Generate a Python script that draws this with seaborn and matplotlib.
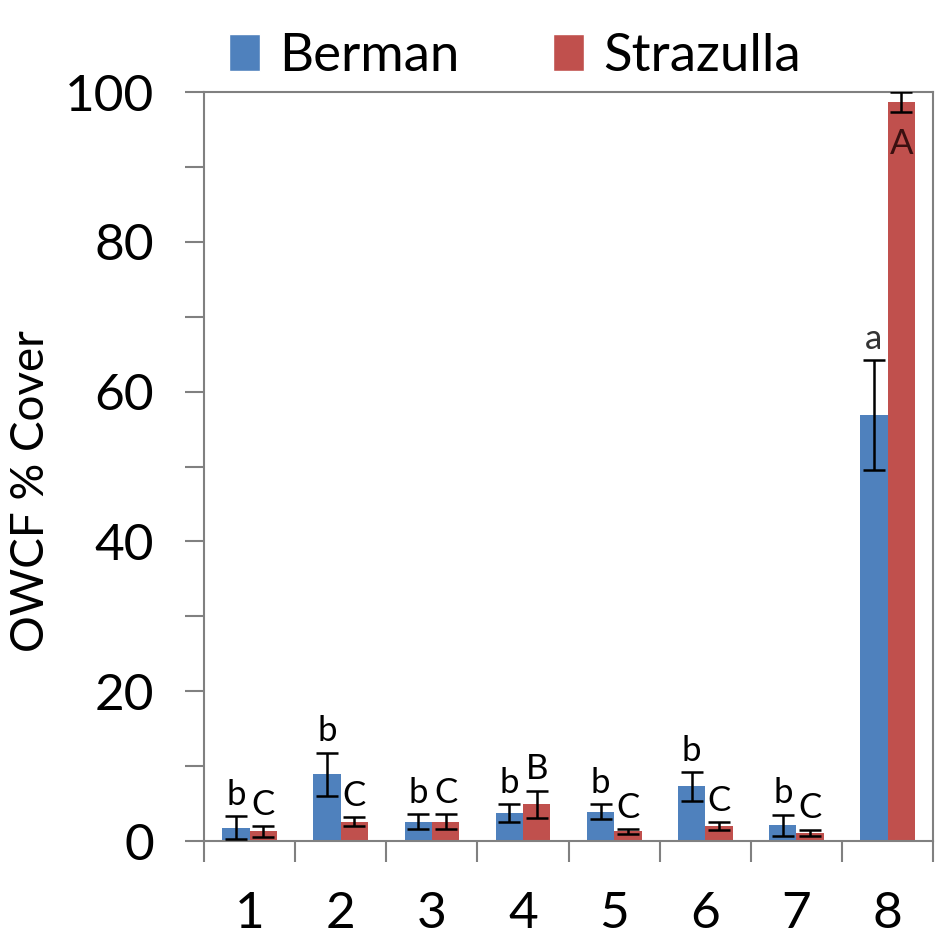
import numpy as np
import pandas as pd
import matplotlib
matplotlib.use('Agg')
import matplotlib.pyplot as plt
from matplotlib.ticker import MultipleLocator, FixedLocator
from matplotlib.patches import Patch
import seaborn as sns

# %% Data
sites = ['1', '2', '3', '4', '5', '6', '7', '8']
berman_mean = [1.8, 8.9, 2.6, 3.7, 3.9, 7.3, 2.1, 56.9]
berman_err = [1.5, 2.9, 1.0, 1.2, 1.0, 1.9, 1.4, 7.3]
strazulla_mean = [1.3, 2.6, 2.6, 4.9, 1.3, 2.0, 1.1, 98.7]
strazulla_err = [0.7, 0.6, 1.0, 1.8, 0.3, 0.5, 0.4, 1.3]
berman_letters = ['b', 'b', 'b', 'b', 'b', 'b', 'b', 'a']
strazulla_letters = ['C', 'C', 'C', 'B', 'C', 'C', 'C', 'A']

colors = {'Berman': '#4F81BD', 'Strazulla': '#C0504D'}

df = pd.DataFrame({
    'site': sites * 2,
    'source': ['Berman'] * 8 + ['Strazulla'] * 8,
    'cover': berman_mean + strazulla_mean,
})

# %% Plot
sns.set_style('white')
plt.rcParams['font.family'] = ['Lato', 'DejaVu Sans']
plt.rcParams['text.color'] = 'black'
plt.rcParams['xtick.labelcolor'] = 'black'
plt.rcParams['ytick.labelcolor'] = 'black'
plt.rcParams['axes.labelcolor'] = 'black'

fig = plt.figure(figsize=(9.36, 9.44), dpi=100)
ax = fig.add_axes([0.218, 0.109, 0.779, 0.7935])

sns.barplot(data=df, x='site', y='cover', hue='source', palette=colors,
            width=0.6, errorbar=None, saturation=1, legend=False,
            linewidth=0, ax=ax)

# bar containers, one per hue level (copy before errorbar adds more)
bar_conts = list(ax.containers)
errs = [berman_err, strazulla_err]
letters = [berman_letters, strazulla_letters]
means = [berman_mean, strazulla_mean]
for k, cont in enumerate(bar_conts):
    xs = [p.get_x() + p.get_width() / 2 for p in cont.patches]
    ax.errorbar(xs, means[k], yerr=errs[k], fmt='none', ecolor='black',
                elinewidth=1.8, capsize=8, capthick=1.8, zorder=3)
    for x, m, e, lab in zip(xs, means[k], errs[k], letters[k]):
        if lab == 'A':
            # letter sits inside the top of the tall bar
            ax.annotate(lab, (x, m - e), xytext=(0, -12), textcoords='offset points',
                        ha='center', va='top', fontsize=25, color='#3a1010')
        else:
            ax.annotate(lab, (x, m + e), xytext=(0, 4), textcoords='offset points',
                        ha='center', va='bottom', fontsize=25,
                        color='#333333' if lab == 'a' else 'black')

ax.set_ylim(0, 100)
ax.set_xlim(-0.5, 7.5)
ax.yaxis.set_major_locator(MultipleLocator(20))
ax.yaxis.set_minor_locator(MultipleLocator(10))
ax.xaxis.set_minor_locator(FixedLocator(np.arange(-0.5, 8, 1)))

ax.tick_params(axis='y', which='both', direction='out', left=True, length=14,
               width=1.5, color='#808080', labelsize=37, pad=22)
ax.tick_params(axis='x', which='major', length=0, labelsize=37, pad=36)
ax.tick_params(axis='x', which='minor', direction='out', bottom=True, length=15,
               width=1.5, color='#808080')

for side in ['left', 'bottom', 'top', 'right']:
    ax.spines[side].set_visible(True)
    ax.spines[side].set_color('#808080')
    ax.spines[side].set_linewidth(1.5)

ax.set_xlabel(None)
ax.set_ylabel('OWCF % Cover', fontsize=33)
ax.yaxis.set_label_coords(-0.237, 0.467)
ax.yaxis.label.set_va('center')

handles = [Patch(facecolor=colors['Berman']), Patch(facecolor=colors['Strazulla'])]
fig.legend(handles, ['Berman', 'Strazulla'], loc='upper center', ncol=2,
           bbox_to_anchor=(0.55, 1.015), frameon=False, fontsize=38,
           handlelength=0.6, handleheight=0.7, handletextpad=0.36,
           columnspacing=1.76)

fig.savefig('out.png', dpi=100)
